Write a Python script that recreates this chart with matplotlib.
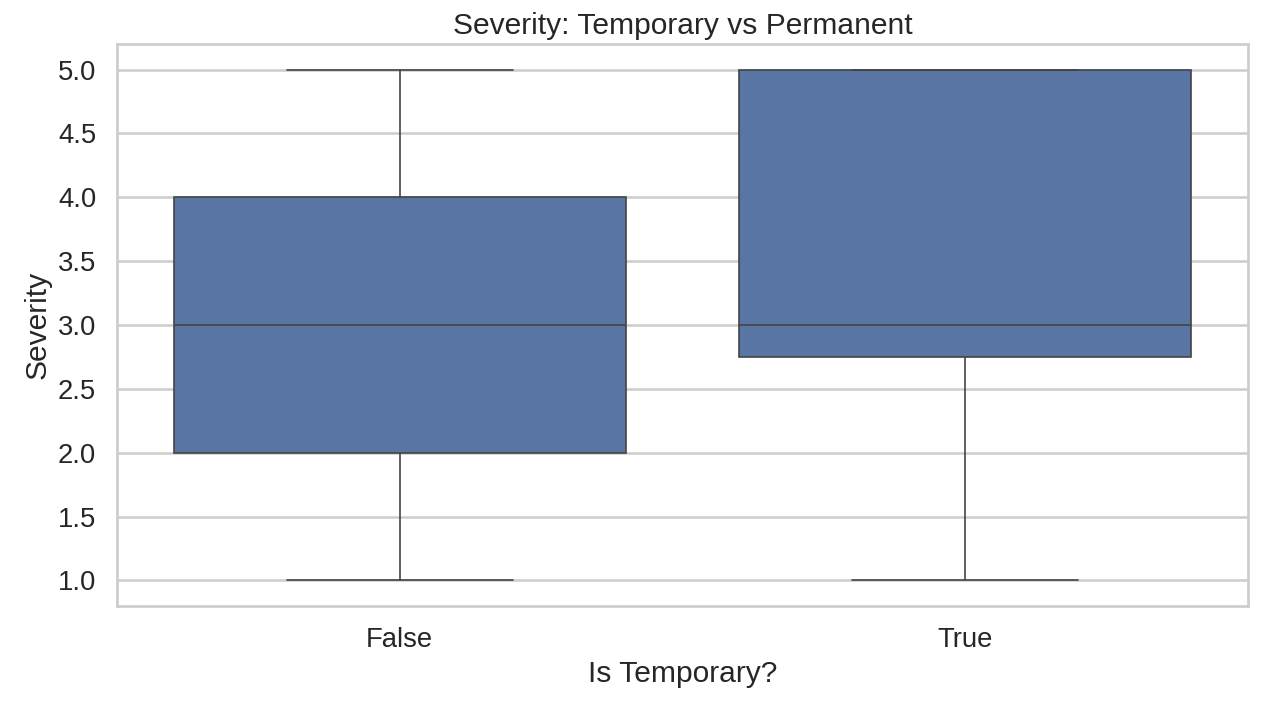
import matplotlib
matplotlib.use("Agg")
import matplotlib.pyplot as plt
import seaborn as sns

categories = ["False", "True"]
whislo = [1.0, 1.0]
q1 = [2.0, 2.75]
med = [3.0, 3.0]
q3 = [4.0, 5.0]
whishi = [5.0, 5.0]

sns.set_theme(style="whitegrid", context="talk")
plt.rcParams['font.family'] = ['Liberation Sans', 'DejaVu Sans']

DPI = 120
fig = plt.figure(figsize=(1267/DPI, 713/DPI), dpi=DPI)
ax = fig.add_axes([117/1267, 1-606/713, (1248-117)/1267, (606-44)/713])

stats = []
for i, c in enumerate(categories):
    stats.append(dict(label=c, whislo=whislo[i], q1=q1[i], med=med[i], q3=q3[i], whishi=whishi[i], fliers=[]))

line_c = "#444444"
lw = 1.0
ax.bxp(stats, positions=range(len(categories)), widths=0.8, patch_artist=True, showfliers=False,
       boxprops=dict(facecolor="#5875a4", edgecolor=line_c, linewidth=lw),
       medianprops=dict(color=line_c, linewidth=lw),
       whiskerprops=dict(color=line_c, linewidth=lw),
       capprops=dict(color=line_c, linewidth=lw), capwidths=0.4)
ax.set_xlim(-0.5, 1.5)
ax.set_ylim(0.8, 5.2)
ax.set_xticks(range(len(categories)))
ax.set_xticklabels(categories)
ax.xaxis.grid(False)
ax.yaxis.grid(True, color="#cccccc", linewidth=1.5)
ax.set_axisbelow(True)
for s in ax.spines.values():
    s.set_color("#cccccc")
    s.set_linewidth(1.6)
ax.set_xlabel("Is Temporary?", fontsize=18)
ax.set_ylabel("Severity", fontsize=18)
ax.set_title("Severity: Temporary vs Permanent", fontsize=18)
ax.tick_params(labelsize=16.5, colors="#262626")
fig.savefig("out.png", dpi=DPI)
